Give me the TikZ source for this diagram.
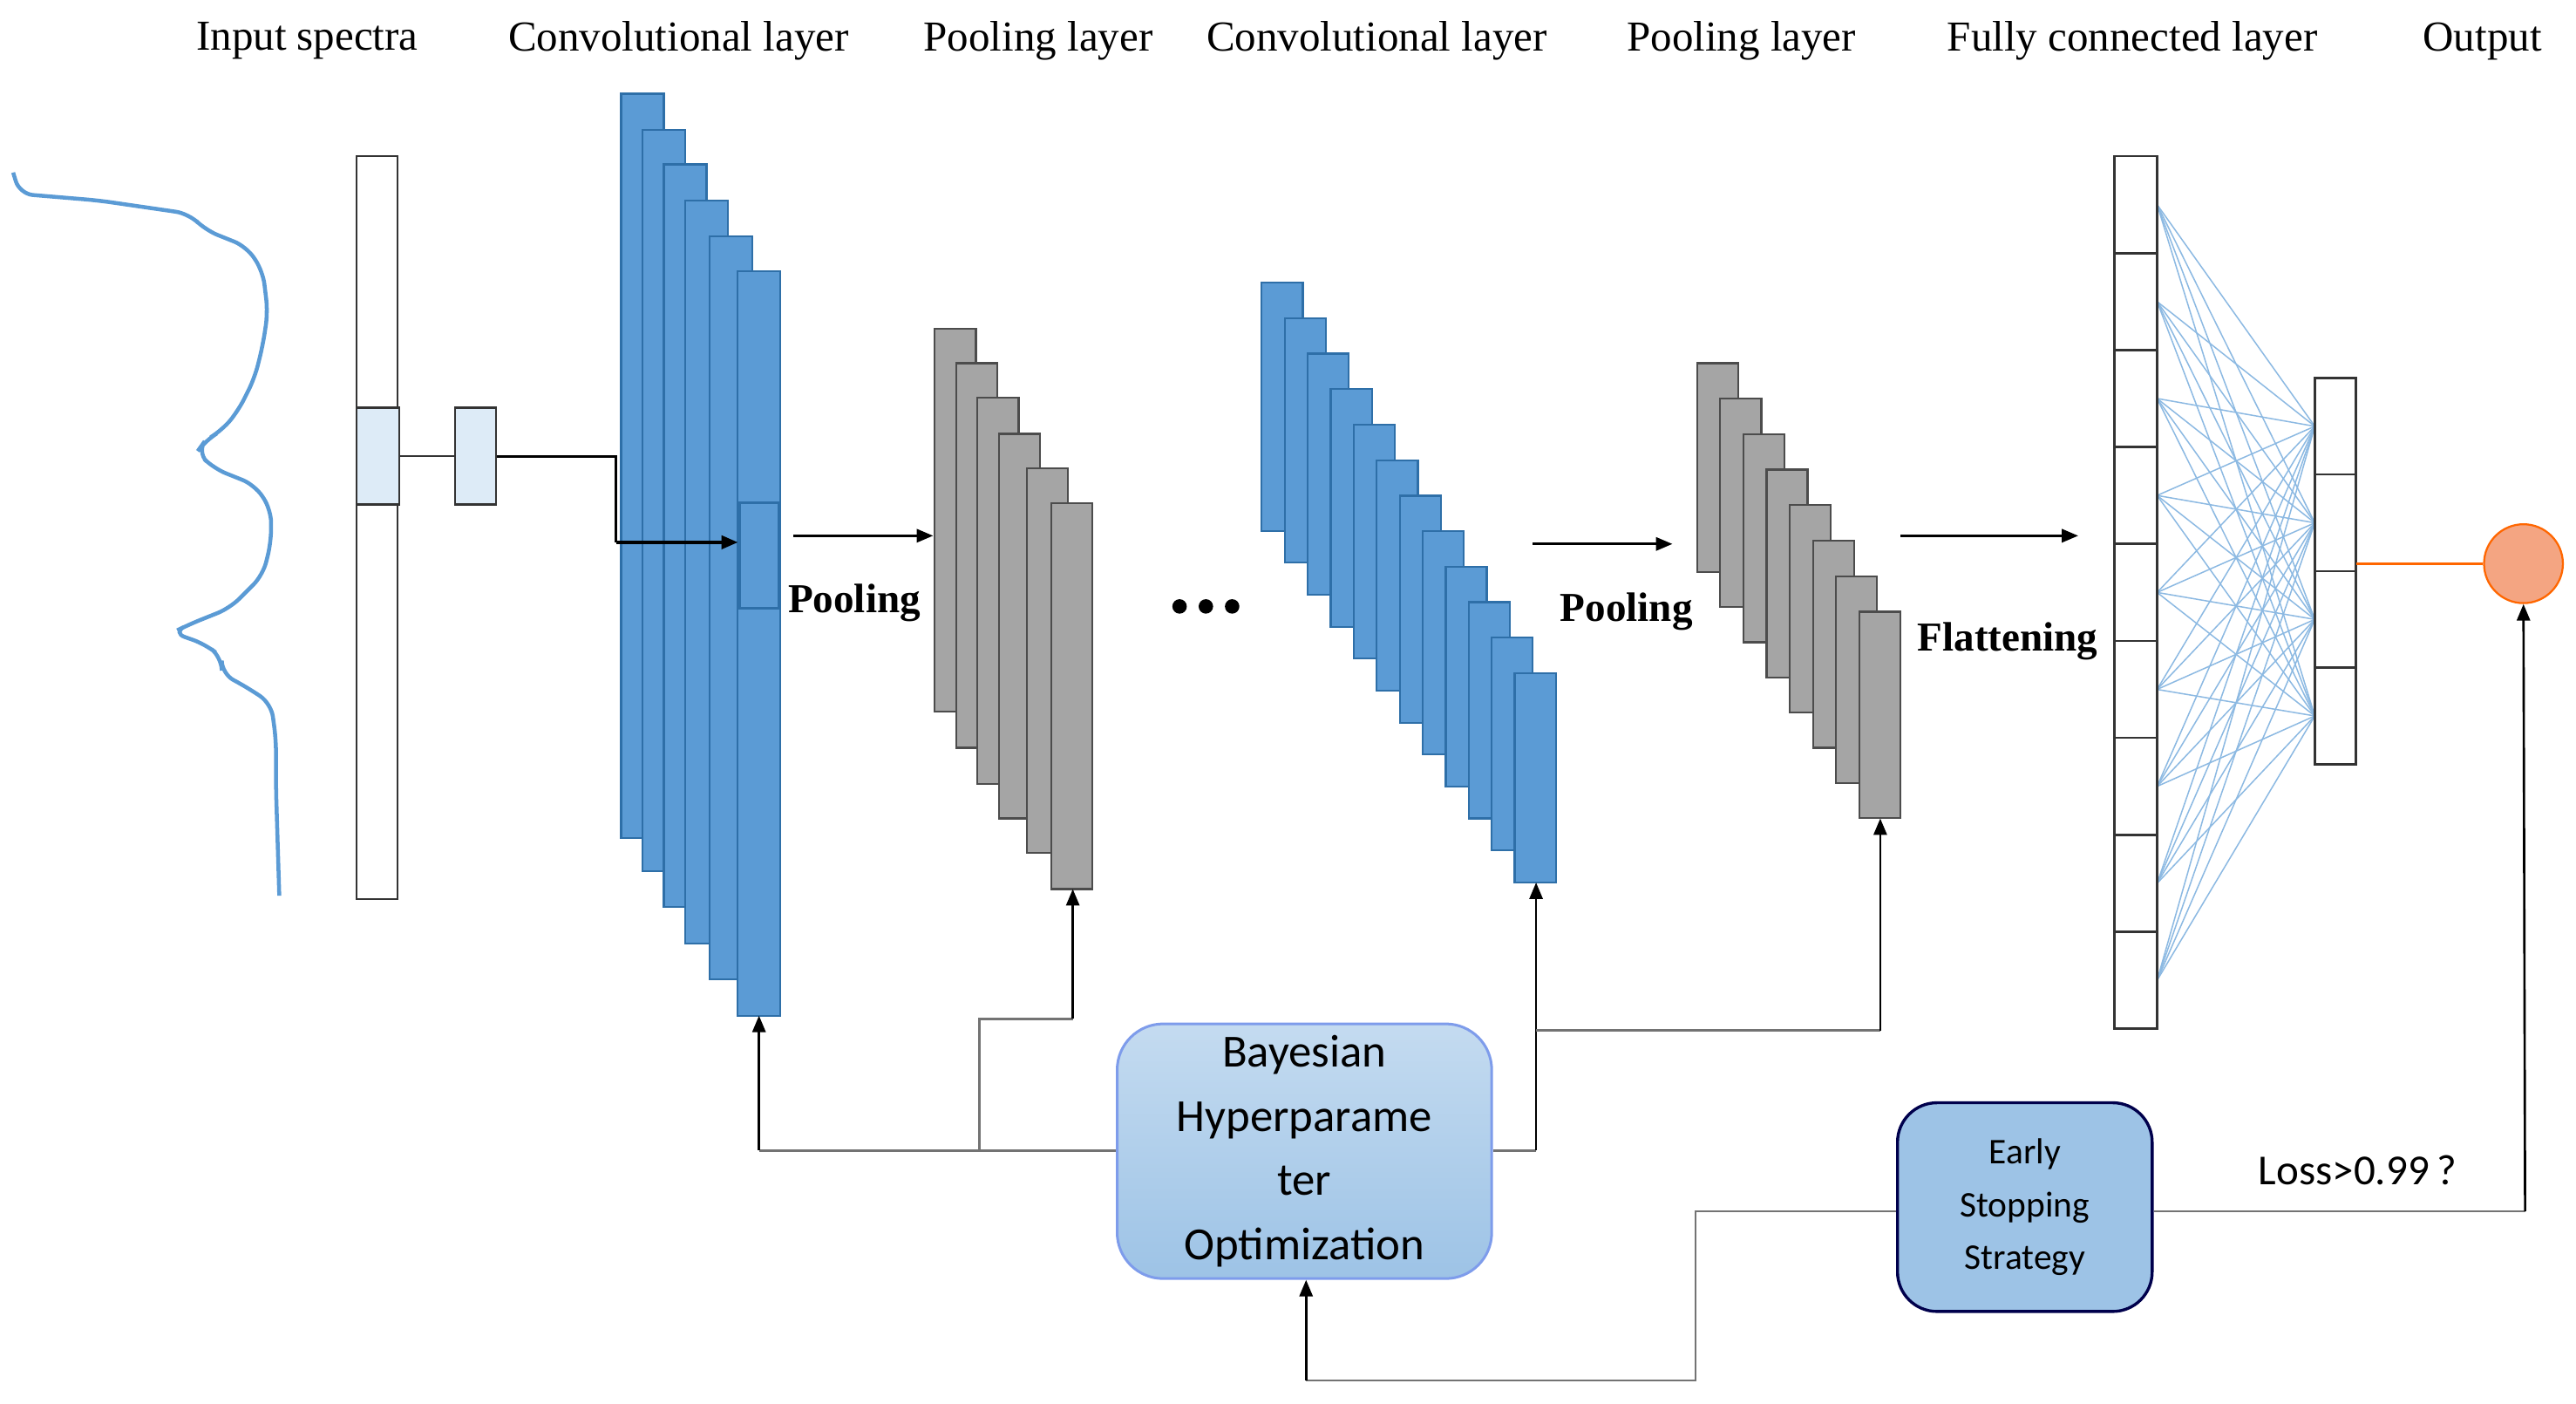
\documentclass[tikz,border=0pt]{standalone}
\usepackage{fontspec}
\setmainfont{Liberation Serif}
\newfontfamily\calib{Carlito}
\usetikzlibrary{arrows.meta}
\definecolor{cblue}{HTML}{5B9BD5}
\definecolor{cblueb}{HTML}{2E6FA8}
\definecolor{cgray}{HTML}{A5A5A5}
\definecolor{lblue}{HTML}{DDEBF7}
\definecolor{boxb}{HTML}{9DC3E6}
\definecolor{salmon}{HTML}{F4A582}
\tikzset{
 hdr/.style={font=\fontsize{13}{15}\selectfont, anchor=center},
 bluebar/.style={draw=cblueb, fill=cblue, line width=0.6pt},
 graybar/.style={draw=black!70, fill=cgray, line width=0.6pt},
 wbar/.style={draw=black!80, fill=white, line width=0.7pt},
 conn/.style={draw=black!55, line width=0.7pt},
 arr/.style={-{Triangle[length=5pt,width=4pt]}, black},
 blab/.style={font=\bfseries\fontsize{12.5}{14}\selectfont},
}
\begin{document}
\begin{tikzpicture}[x=0.5pt,y=-0.5pt]
\useasboundingbox (0,0) rectangle (1568,854);
% headers
\node[hdr] (h1) at (187,25) {Input spectra};
\node[hdr] (h2) at (413,25) {Convolutional layer};
\node[hdr] (h3) at (632,25) {Pooling layer};
\node[hdr] (h4) at (838,25) {Convolutional layer};
\node[hdr] (h5) at (1060,25) {Pooling layer};
\node[hdr] (h6) at (1298,25) {Fully connected layer};
\node[hdr] (h7) at (1511,25) {Output};
% spectrum
\draw[cblue, line width=1.2pt, rounded corners=4pt] (8,105) -- (12,118) -- (60,122) -- (115,130) -- (125,140) -- (150,150) -- (160,165) -- (163,190) -- (160,210) -- (155,230) -- (145,250) -- (135,262) -- (125,268) -- (120,275) -- (130,285) -- (155,295) -- (165,310) -- (165,330) -- (160,350) -- (140,370) -- (115,380) -- (105,385) -- (125,392) -- (135,400) -- (135,410) -- (150,418) -- (165,428) -- (168,450) -- (168,480) -- (170,545);
% input column
\node[wbar, minimum width=12.5pt, minimum height=226pt, inner sep=0pt] (inp) at (229.5,321) {};
\node[draw=black!80, fill=lblue, line width=0.7pt, minimum width=13pt, minimum height=29.5pt, inner sep=0pt] (hl) at (230,277.5) {};
\node[draw=black!80, fill=lblue, line width=0.7pt, minimum width=12.5pt, minimum height=29.5pt, inner sep=0pt] (kb) at (289.5,277.5) {};
\draw[black!80, line width=0.7pt] (hl.east) -- (kb.west);
% conv1
\foreach \l/\t/\b in {378/57/510, 391/79/530, 404/100/552, 417/122/574, 432/144/596, 449/165/618}{
  \draw[bluebar] (\l,\t) rectangle ++(26,\b-\t);
}
\node[draw=cblueb, fill=cblue, line width=0.8pt, minimum width=12pt, minimum height=32pt, inner sep=0pt] (c1h) at (462,338) {};
\coordinate (bend1) at (375,278);
\draw[black, line width=0.8pt] (kb.east |- 0,278) -- (bend1) -- (375,330);
\draw[arr, line width=1pt] (375,330) -- (c1h.west |- 0,330);
\coordinate (c1b) at (462,618);
% pooling arrow 1
\coordinate (pa1) at (483,326); \coordinate (pa1e) at (568,326);
\draw[arr, line width=0.8pt] (pa1) -- (pa1e);
\node[blab] (pl1) at (520,367) {Pooling};
% pool1
\foreach \l/\t/\b in {569/200/433, 582/221/455, 595/242/477, 608/264/498, 625/285/519, 640/306/541}{
  \draw[graybar] (\l,\t) rectangle ++(25,\b-\t);
}
\coordinate (p1b) at (653,541);
\foreach \k in {0,1,2}{\fill (718+\k*16,369) circle (2.2pt);}
\coordinate (dots) at (734,369);
% conv2
\foreach \i in {0,...,11}{
  \pgfmathsetmacro\l{768+\i*14}
  \pgfmathsetmacro\t{172+\i*21.6}
  \pgfmathsetmacro\b{323+\i*19.45}
  \draw[bluebar] (\l,\t) rectangle ++(25,\b-\t);
}
\coordinate (c2b) at (935,537);
\draw[arr, line width=0.8pt] (933,331) -- (1018,331);
\node[blab] (pl2) at (990,372) {Pooling};
% pool2
\foreach \i in {0,...,7}{
  \pgfmathsetmacro\l{1033+\i*14.1}
  \pgfmathsetmacro\t{221+\i*21.6}
  \pgfmathsetmacro\b{348+\i*21.4}
  \draw[graybar] (\l,\t) rectangle ++(25,\b-\t);
}
\coordinate (p2b) at (1144.5,498);
\draw[arr, line width=0.8pt] (1157,326) -- (1265,326);
\node[blab] (fl) at (1222,390) {Flattening};
% FC connections
\foreach \i in {0,...,8}{
  \foreach \j in {0,...,3}{
    \draw[cblue!70, line width=0.4pt] (1313,{124.5+\i*59}) -- (1409,{259.4+\j*58.75});
  }
}
\foreach \i in {0,...,8}{
  \draw[wbar] (1287,{95+\i*59}) rectangle ++(26,59);
}
\foreach \j in {0,...,3}{
  \draw[wbar] (1409,{230+\j*58.75}) rectangle ++(25,58.75);
}
\coordinate (fco) at (1434,343);
\node[circle, draw=orange!80!red, fill=salmon, line width=0.6pt, minimum size=24pt, inner sep=0pt] (out) at (1536,343) {};
\draw[orange!80!red, line width=0.6pt] (fco) -- (out.west);
% Bayesian box
\node[draw=boxb!80!blue, line width=0.8pt, rounded corners=14pt, top color=boxb!60, bottom color=boxb, minimum width=114pt, minimum height=77.5pt, inner sep=0pt, align=center, font=\calib\fontsize{14}{19.5}\selectfont] (bay) at (794,700.5) {Bayesian\\Hyperparame\\ter\\Optimization};
% Early stopping box
\node[draw=black!70!blue, line width=0.9pt, rounded corners=12pt, fill=boxb, minimum width=77.5pt, minimum height=63.5pt, inner sep=0pt, align=center, font=\calib\fontsize{11}{16}\selectfont] (es) at (1232.5,734.5) {Early\\Stopping\\Strategy};
% connectors
\draw[conn] (bay.west |- 0,700) -- (462,700);
\draw[conn, arr] (462,700) -- (c1b);
\draw[conn] (596,700) -- (596,620) -- (653,620);
\draw[conn, arr] (653,620) -- (p1b);
\draw[conn] (bay.east |- 0,700) -- (935,700);
\draw[conn, arr] (935,700) -- (c2b);
\draw[conn] (935,627) -- (1144.5,627);
\draw[conn, arr] (1144.5,627) -- (p2b);
\draw[conn] (es.west |- 0,737) -- (1032,737) -- (1032,840) -- (795,840);
\draw[conn, arr] (795,840) -- (bay.south -| 795,0);
\draw[conn] (es.east |- 0,737) -- (1537,737);
\draw[conn, arr] (1537,737) -- (out.south);
\node[font=\calib\fontsize{13}{14}\selectfont] (loss) at (1435,712) {Loss>0.99\,?};
\end{tikzpicture}
\end{document}
